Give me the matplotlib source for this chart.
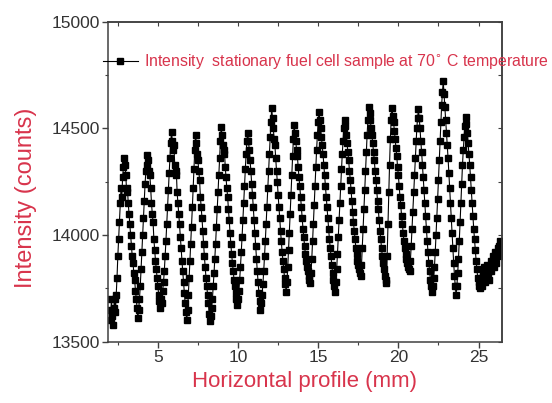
import numpy as np
import matplotlib.pyplot as plt
from matplotlib.ticker import MultipleLocator

plt.rcParams['font.family'] = ['Liberation Sans', 'DejaVu Sans']

RED = '#d8344c'
GREY = '#404040'

# intensity profile, sampled every 0.05 mm starting at 2.0 mm
x_start = 2.0
x_step = 0.05
seg_start = [13650, 13600, 13700, 13620, 13580, 13660, 13700, 13640, 13720]
cycle_1 = [13800, 13900, 13980, 14060, 14150, 14220, 14180, 14270, 14320, 14360,
           14330, 14280, 14200, 14220, 14150, 14100, 14050, 14000, 13950, 13900,
           13870, 13820, 13790, 13740, 13700, 13660, 13610]
cycle_2 = [13650, 13700, 13760, 13840, 13920, 14000, 14080, 14160, 14240, 14300, 14330, 14375,
           14350, 14300, 14280, 14220, 14150, 14100, 14060, 13980, 13930, 13880, 13840,
           13800, 13760, 13720, 13690, 13660]
cycle_3 = [13700, 13680, 13740, 13780, 13830, 13900, 13970, 14050, 14130, 14210, 14290,
           14360, 14430, 14485,
           14440, 14400, 14420, 14330, 14280, 14300, 14200, 14150, 14100, 14050, 13990,
           13940, 13880, 13830, 13780, 13730, 13680, 13640, 13600]
cycle_4 = [13650, 13720, 13800, 13880, 13960, 14040, 14130, 14220, 14310, 14400, 14470,
           14430, 14380, 14350, 14300, 14260, 14180, 14130, 14080, 14020, 13960, 13900,
           13850, 13800, 13760, 13720, 13680, 13630, 13595]
cycle_5 = [13620, 13660, 13700, 13760, 13820, 13890, 13960, 14040, 14120, 14200, 14280,
           14360, 14440, 14505,
           14470, 14420, 14380, 14400, 14320, 14270, 14220, 14180, 14120, 14070, 14010,
           13960, 13910, 13870, 13830, 13790, 13760, 13730, 13700, 13670]
cycle_6 = [13700, 13740, 13790, 13850, 13920, 13990, 14070, 14150, 14230, 14310, 14380,
           14440, 14480,
           14440, 14400, 14350, 14300, 14240, 14190, 14130, 14070, 14010, 13950, 13890,
           13830, 13780, 13730, 13690, 13650]
cycle_7 = [13680, 13720, 13770, 13830, 13900, 13970, 14050, 14130, 14220, 14300, 14380,
           14460, 14530, 14595,
           14550, 14500, 14450, 14420, 14360, 14300, 14250, 14190, 14130, 14080, 14020,
           13970, 13920, 13880, 13840, 13800, 13770, 13735]
cycle_8 = [13780, 13850, 13930, 14010, 14100, 14190, 14280, 14370, 14450, 14515,
           14480, 14440, 14400, 14370, 14320, 14270, 14230, 14180, 14130, 14080, 14030,
           13990, 13950, 13910, 13880, 13850, 13830, 13810, 13790, 13775]
cycle_9 = [13820, 13890, 13970, 14050, 14140, 14230, 14320, 14400, 14470, 14530, 14575,
           14540, 14500, 14460, 14420, 14380, 14330, 14280, 14230, 14180, 14130, 14080,
           14030, 13980, 13940, 13900, 13860, 13820, 13790, 13760, 13735]
cycle_10 = [13780, 13840, 13910, 13990, 14070, 14150, 14230, 14310, 14380, 14440, 14500, 14540,
            14510, 14470, 14430, 14390, 14350, 14300, 14260, 14210, 14160, 14110, 14060,
            14020, 13980, 13940, 13910, 13880, 13860, 13840, 13820, 13810]
cycle_11 = [13860, 13940, 14030, 14120, 14210, 14300, 14390, 14470, 14540, 14600,
            14570, 14540, 14500, 14470, 14430, 14390, 14350, 14300, 14260, 14210, 14160,
            14120, 14070, 14020, 13980, 13940, 13900, 13870, 13840, 13810, 13790, 13775]
cycle_12 = [13900, 14050, 14200, 14330, 14450, 14540, 14595,
            14560, 14530, 14490, 14450, 14410, 14370, 14320, 14280, 14230, 14180, 14140,
            14090, 14050, 14010, 13970, 13940, 13910, 13890, 13870, 13850, 13840, 13830]
cycle_13 = [13880, 13950, 14030, 14110, 14200, 14280, 14360, 14440, 14500, 14550, 14590,
            14550, 14500, 14440, 14390, 14330, 14270, 14210, 14150, 14090, 14030, 13970,
            13920, 13870, 13830, 13790, 13760, 13735]
cycle_14 = [13760, 13800, 13850, 13920, 14000, 14080, 14170, 14260, 14350, 14440, 14530,
            14610, 14670, 14720,
            14660, 14600, 14540, 14480, 14420, 14360, 14290, 14220, 14150, 14080, 14010,
            13940, 13870, 13810, 13760, 13720]
cycle_15 = [13760, 13820, 13890, 13970, 14060, 14150, 14240, 14330, 14400, 14460, 14510, 14555,
            14520, 14480, 14430, 14380, 14330, 14270, 14210, 14150, 14090, 14030, 13980,
            13930, 13880, 13840, 13800, 13780, 13760, 13750]
seg_end = [13800, 13760, 13820, 13790, 13850, 13780, 13830, 13800, 13860, 13820, 13790,
           13850, 13880, 13830, 13870, 13900, 13850, 13890, 13920, 13870, 13910, 13940,
           13900, 13950, 13970, 13930]

intensity = np.array(seg_start + cycle_1 + cycle_2 + cycle_3 + cycle_4 + cycle_5 + cycle_6
                     + cycle_7 + cycle_8 + cycle_9 + cycle_10 + cycle_11 + cycle_12
                     + cycle_13 + cycle_14 + cycle_15 + seg_end, dtype=float)
position = x_start + x_step * np.arange(len(intensity))

label = 'Intensity  stationary fuel cell sample at 70$^{\\circ}$ C temperature'

fig = plt.figure(figsize=(5.52, 4.03), dpi=100)
ax = fig.add_axes([0.196, 0.152, 0.713, 0.794])

ax.plot(position, intensity, '-s', color='black', lw=0.8, ms=4.6, label=label)

ax.set_xlim(1.9, 26.45)
ax.set_ylim(13500, 15000)
ax.xaxis.set_major_locator(MultipleLocator(5))
ax.xaxis.set_minor_locator(MultipleLocator(2.5))
ax.yaxis.set_major_locator(MultipleLocator(500))
ax.yaxis.set_minor_locator(MultipleLocator(250))
ax.tick_params(which='major', direction='out', length=4, width=1, color=GREY,
               labelsize=12.5, labelcolor='#333333', pad=2)
ax.tick_params(which='minor', direction='out', length=2.5, width=0.8, color=GREY)

top = ax.secondary_xaxis('top')
top.xaxis.set_major_locator(MultipleLocator(2.5))
top.tick_params(direction='in', length=3, color=GREY, labeltop=False)
right = ax.secondary_yaxis('right')
right.yaxis.set_major_locator(MultipleLocator(250))
right.tick_params(direction='in', length=3, color=GREY, labelright=False)
for a in (ax, top, right):
    for s in a.spines.values():
        s.set_color(GREY)
        s.set_linewidth(1.1)

ax.set_xlabel('Horizontal profile (mm)', color=RED, fontsize=16, labelpad=4)
ax.set_ylabel('Intensity (counts)', color=RED, fontsize=17)
ax.yaxis.set_label_coords(-0.18, 0.45)

leg = ax.legend(loc='center left', bbox_to_anchor=(-0.013, 0.875), frameon=False,
                borderpad=0, borderaxespad=0, handlelength=2.2, handletextpad=0.4,
                fontsize=11.4, labelcolor=RED)

fig.savefig('out.png', dpi=100)
